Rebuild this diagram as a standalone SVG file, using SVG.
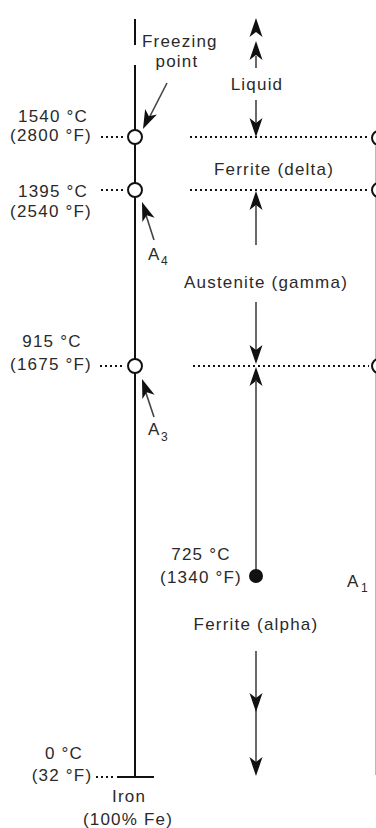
<svg xmlns="http://www.w3.org/2000/svg" width="376" height="828" viewBox="0 0 376 828">
<style>
text{font-family:"Liberation Sans",Arial,Helvetica,sans-serif;font-size:17px;letter-spacing:1.2px;fill:#2a2a2a}
.sub{font-size:12px;letter-spacing:0}
.mid{text-anchor:middle}
.axis{stroke:#111;stroke-width:2;fill:none}
.thin{stroke:#444;stroke-width:1.6;fill:none}
.dot{stroke:#111;stroke-width:2;stroke-dasharray:2 3;fill:none}
.pt{fill:#fff;stroke:#111;stroke-width:2}
.ah{fill:#111}
</style>
<defs>
<path id="up" d="M0,0 L6.5,19 L0,14 L-6.5,19 Z"/>
<path id="dn" d="M0,0 L6.5,-19 L0,-14 L-6.5,-19 Z"/>
</defs>
<g id="connectors">
<line class="axis" x1="135" y1="19" x2="135" y2="45"/>
<line class="axis" x1="135" y1="65" x2="135" y2="777"/>
<line class="axis" x1="117" y1="777" x2="154" y2="777"/>
<line class="dot" x1="101" y1="137" x2="125" y2="137"/>
<line class="dot" x1="101" y1="190" x2="125" y2="190"/>
<line class="dot" x1="100" y1="366" x2="125" y2="366"/>
<line class="dot" x1="96" y1="777" x2="116" y2="777"/>
<line class="dot" x1="190" y1="137" x2="369" y2="137"/>
<line class="dot" x1="190" y1="190" x2="369" y2="190"/>
<line class="dot" x1="193" y1="366" x2="369" y2="366"/>
<line x1="375.5" y1="146" x2="375.5" y2="775" stroke="#b8b8b8" stroke-width="1"/>
<line class="thin" x1="167" y1="83" x2="147" y2="122"/>
<use href="#up" class="ah" transform="translate(143,129) rotate(-155)"/>
<line class="thin" x1="154" y1="240" x2="145" y2="212"/>
<use href="#up" class="ah" transform="translate(142,202) rotate(-20)"/>
<line class="thin" x1="154" y1="417" x2="145" y2="390"/>
<use href="#up" class="ah" transform="translate(142,379) rotate(-20)"/>
<use href="#up" class="ah" transform="translate(256,18)"/>
<use href="#up" class="ah" transform="translate(256,41)"/>
<line class="thin" x1="256" y1="56" x2="256" y2="68" stroke="#999"/>
<line class="thin" x1="256" y1="100" x2="256" y2="125"/>
<use href="#dn" class="ah" transform="translate(256,137)"/>
<use href="#up" class="ah" transform="translate(256,191)"/>
<line class="thin" x1="256" y1="205" x2="256" y2="245"/>
<line class="thin" x1="256" y1="302" x2="256" y2="352"/>
<use href="#dn" class="ah" transform="translate(256,364)"/>
<use href="#up" class="ah" transform="translate(256,367)"/>
<line class="thin" x1="256" y1="380" x2="256" y2="576" stroke="#777"/>
<line class="thin" x1="256" y1="651" x2="256" y2="772" stroke="#666"/>
<use href="#dn" class="ah" transform="translate(256,712)"/>
<use href="#dn" class="ah" transform="translate(256,776)"/>
</g>
<g id="freezing-point">
<circle class="pt" cx="135" cy="137" r="7"/>
<text x="142" y="47">Freezing</text>
<text class="mid" x="177" y="67">point</text>
</g>
<g id="t1540">
<text class="mid" x="53" y="122">1540 °C</text>
<text class="mid" x="51" y="141">(2800 °F)</text>
</g>
<g id="A4">
<circle class="pt" cx="135" cy="190" r="7"/>
<text x="148" y="260">A</text>
<text class="sub" x="161" y="265">4</text>
</g>
<g id="t1395">
<text class="mid" x="53" y="197">1395 °C</text>
<text class="mid" x="51" y="217">(2540 °F)</text>
</g>
<g id="A3">
<circle class="pt" cx="135" cy="366" r="7"/>
<text x="148" y="435">A</text>
<text class="sub" x="161" y="441">3</text>
</g>
<g id="t915">
<text class="mid" x="52" y="347">915 °C</text>
<text class="mid" x="51" y="370">(1675 °F)</text>
</g>
<g id="t0">
<text class="mid" x="64" y="759">0 °C</text>
<text class="mid" x="62" y="781">(32 °F)</text>
<text class="mid" x="129" y="802">Iron</text>
<text class="mid" x="128" y="825">(100% Fe)</text>
</g>
<g id="right-points">
<circle class="pt" cx="379" cy="138" r="7"/>
<circle class="pt" cx="379" cy="190" r="7"/>
<circle class="pt" cx="379" cy="366" r="7"/>
</g>
<g id="phases">
<text class="mid" x="257" y="90">Liquid</text>
<text class="mid" x="274" y="175">Ferrite (delta)</text>
<text class="mid" x="266" y="288">Austenite (gamma)</text>
<text class="mid" x="256" y="630">Ferrite (alpha)</text>
</g>
<g id="A1">
<circle cx="256" cy="576" r="7" fill="#111"/>
<text class="mid" x="201" y="560">725 °C</text>
<text class="mid" x="201" y="583">(1340 °F)</text>
<text x="347" y="587">A</text>
<text class="sub" x="361" y="592">1</text>
</g>
</svg>
